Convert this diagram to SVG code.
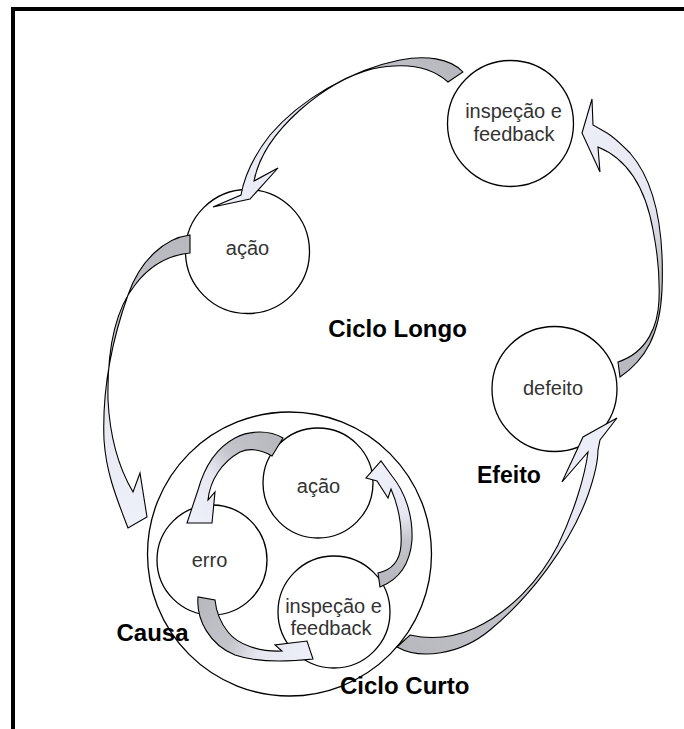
<svg xmlns="http://www.w3.org/2000/svg" width="684" height="729" viewBox="0 0 684 729">
<style>
.node circle{fill:#fff;stroke:#000;stroke-width:1.3}
.t{font-family:"Liberation Sans",Arial,sans-serif;font-size:20px;fill:#333;text-anchor:middle}
.lbl{font-family:"Liberation Sans",Arial,sans-serif;font-size:24px;font-weight:bold;fill:#000}
.arr{stroke:#000;stroke-width:1.1;stroke-linejoin:miter}
</style>
<defs>
<linearGradient id="gA" gradientUnits="userSpaceOnUse" x1="455" y1="77" x2="213" y2="207"><stop offset="0" stop-color="#b8b9be"/><stop offset="0.35" stop-color="#c4c5ca"/><stop offset="0.6" stop-color="#e6e7f1"/><stop offset="1" stop-color="#eef0f9"/></linearGradient>
<linearGradient id="gB" gradientUnits="userSpaceOnUse" x1="619" y1="370" x2="592" y2="100"><stop offset="0" stop-color="#b8b9be"/><stop offset="0.35" stop-color="#c4c5ca"/><stop offset="0.6" stop-color="#e6e7f1"/><stop offset="1" stop-color="#eef0f9"/></linearGradient>
<linearGradient id="gC" gradientUnits="userSpaceOnUse" x1="190" y1="244" x2="135" y2="522"><stop offset="0" stop-color="#b8b9be"/><stop offset="0.35" stop-color="#c4c5ca"/><stop offset="0.6" stop-color="#e6e7f1"/><stop offset="1" stop-color="#eef0f9"/></linearGradient>
<linearGradient id="gD" gradientUnits="userSpaceOnUse" x1="403" y1="641" x2="617" y2="418"><stop offset="0" stop-color="#b8b9be"/><stop offset="0.35" stop-color="#c4c5ca"/><stop offset="0.6" stop-color="#e6e7f1"/><stop offset="1" stop-color="#eef0f9"/></linearGradient>
<linearGradient id="gE" gradientUnits="userSpaceOnUse" x1="277" y1="446" x2="192" y2="520"><stop offset="0" stop-color="#b8b9be"/><stop offset="0.35" stop-color="#c4c5ca"/><stop offset="0.6" stop-color="#e6e7f1"/><stop offset="1" stop-color="#eef0f9"/></linearGradient>
<linearGradient id="gF" gradientUnits="userSpaceOnUse" x1="206" y1="598" x2="313" y2="655"><stop offset="0" stop-color="#b8b9be"/><stop offset="0.35" stop-color="#c4c5ca"/><stop offset="0.6" stop-color="#e6e7f1"/><stop offset="1" stop-color="#eef0f9"/></linearGradient>
<linearGradient id="gG" gradientUnits="userSpaceOnUse" x1="379" y1="580" x2="368" y2="478"><stop offset="0" stop-color="#b8b9be"/><stop offset="0.35" stop-color="#c4c5ca"/><stop offset="0.6" stop-color="#e6e7f1"/><stop offset="1" stop-color="#eef0f9"/></linearGradient>
</defs>
<rect x="0" y="0" width="684" height="729" fill="#fff"/>
<g id="frame">
<rect x="11" y="7" width="673" height="4" fill="#000"/>
<rect x="11" y="7" width="4" height="722" fill="#000"/>
</g>
<g id="ciclo-curto" class="node"><circle cx="289.5" cy="554" r="142"/></g>
<g id="inspecao-longo" class="node"><circle cx="510.5" cy="123.5" r="63"/><text class="t" x="513.5" y="118">inspeção e</text><text class="t" x="514" y="141">feedback</text></g>
<g id="acao-longo" class="node"><circle cx="247.5" cy="251.5" r="62"/><text class="t" x="247.5" y="255">ação</text></g>
<g id="defeito" class="node"><circle cx="554.5" cy="389" r="62.5"/><text class="t" x="553" y="395">defeito</text></g>
<g id="acao-curto" class="node"><circle cx="318" cy="483" r="55"/><text class="t" x="318.5" y="493">ação</text></g>
<g id="erro" class="node"><circle cx="212" cy="560" r="55"/><text class="t" x="209.5" y="567">erro</text></g>
<g id="inspecao-curto" class="node"><circle cx="334" cy="612" r="56"/><text class="t" x="333.5" y="613">inspeção e</text><text class="t" x="331" y="635">feedback</text></g>
<g id="connectors" class="arr">
<path fill="url(#gA)" d="M463,72 C450,58 425,55 400,60 C350,70 300,100 270,135 C252,158 244,178 241,195 L213,207 L250,199 L278,168 L254,181 C258,160 272,135 300,110 C325,88 350,75 372,69 C400,63 428,64 448,82 Z"/>
<path fill="url(#gB)" d="M620,377 C645,360 660,335 662,290 C664,240 658,185 630,153 C622,145 614,137 607,133 L593,125 L592,99 L582,133 L600,172 L598,147 C625,158 645,185 653,230 C658,255 660,275 659,300 C658,325 648,352 618,362 Z"/>
<path fill="url(#gC)" d="M190,235 C165,238 140,260 128,295 C112,340 102,390 104,440 C106,470 114,492 128,528 L147,517 L140,473 L133,492 C120,470 110,440 108,400 C107,350 115,310 135,285 C150,265 170,255 190,253 Z"/>
<path fill="url(#gD)" d="M397,647 C420,660 460,655 490,630 C530,597 570,545 588,495 C596,472 598,458 598,450 L600,440 L617,418 L583,437 L562,482 L588,452 C585,475 575,510 558,545 C540,580 510,612 475,628 C455,637 432,640 410,635 Z"/>
<path fill="url(#gE)" d="M283,438 C270,430 250,430 235,438 C218,447 205,465 198,490 L187,523 L212,523 L215,492 L208,500 C210,480 222,462 240,452 C252,447 262,450 272,456 Z"/>
<path fill="url(#gF)" d="M198,597 C196,620 210,645 235,655 C255,662 285,662 313,659 L307,641 L275,645 L282,651 C260,652 238,645 228,632 C220,622 216,610 215,600 Z"/>
<path fill="url(#gG)" d="M380,587 C398,580 410,565 412,540 C413,515 405,492 392,476 L381,461 L366,478 L377,481 L388,498 L391,489 C398,505 402,525 401,545 C400,560 392,570 378,573 Z"/>
</g>
<g id="labels">
<text class="lbl" x="397.5" y="337" text-anchor="middle">Ciclo Longo</text>
<text class="lbl" x="477" y="483" style="font-size:23px">Efeito</text>
<text class="lbl" x="152.5" y="641" text-anchor="middle">Causa</text>
<text class="lbl" x="340" y="694">Ciclo Curto</text>
</g>
</svg>
